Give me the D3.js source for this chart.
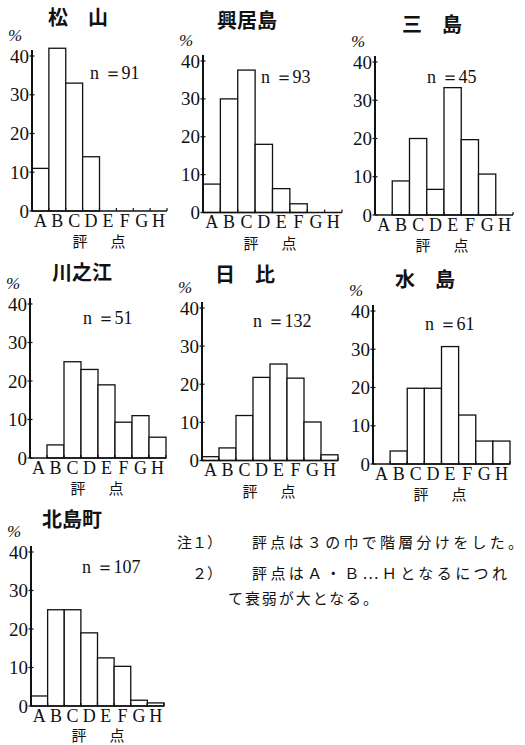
<!DOCTYPE html>
<html><head><meta charset="utf-8">
<script src="https://cdn.jsdelivr.net/npm/d3@7"></script>
<style>
html,body{margin:0;padding:0;background:#fff;}
svg{display:block;}
.ser{font-family:"Liberation Serif","Times New Roman","DejaVu Serif",serif;}
.cjk{font-family:"Noto Sans CJK JP","Noto Sans CJK SC",sans-serif;}
</style></head>
<body>
<script>
// ---- data ----
const categories = ["A","B","C","D","E","F","G","H"];
const yTicks = [0,10,20,30,40];
const regionNames = ["松　山","興居島","三　島","川之江","日　比","水　島","北島町"];
const nValues = [91,93,45,51,132,61,107];
const matsuyama  = [11,42,33,14,0,0,0,0];
const gogoshima  = [7.5,30,37.6,18,6.3,2.3,0,0];
const mishima    = [0,8.9,20,6.7,33.3,19.7,10.7,0];
const kawanoe    = [0,3.4,25,23,19,9.3,11,5.4];
const hibi       = [1,3.3,11.8,21.8,25.3,21.6,10.1,1.5];
const mizushima  = [0,3.4,19.8,19.8,30.7,12.8,6,6];
const kitajima   = [2.6,25,25,19,12.5,10.3,1.5,0.8];
const seriesList = [matsuyama,gogoshima,mishima,kawanoe,hibi,mizushima,kitajima];
const noteHeads = ["注１）","２）",""];
const noteBodies = ["評点は３の巾で階層分けをした。","評点はＡ・Ｂ…Ｈとなるにつれ","て衰弱が大となる。"];

// ---- layout ----
const W = 525, H = 745;
const layout = [
  {x:32,  y0:211,   y40:56,  w:135, tx:78,  ty:18,  nx:90,  ny:73},
  {x:203, y0:212.5, y40:61,  w:139, tx:247, ty:21,  nx:261, ny:77},
  {x:375, y0:215,   y40:62,  w:138, tx:432, ty:25,  nx:427, ny:77},
  {x:30,  y0:458,   y40:304, w:136, tx:82,  ty:273, nx:83,  ny:318},
  {x:202, y0:460.5, y40:308, w:136, tx:245, ty:275, nx:253, ny:321},
  {x:373, y0:464,   y40:311, w:137, tx:425, ty:280, nx:425, ny:324},
  {x:31,  y0:706,   y40:552, w:133, tx:72,  ty:520, nx:82,  ny:567}
];
const noteHeadX = [177,192];
const noteBodyX = [252,252,228];
const noteBodyLen = [271,255,150];
const noteY = [548,579,604];

const svg = d3.select("body").append("svg").attr("width",W).attr("height",H);

seriesList.forEach((vals,i)=>{
  const L = layout[i];
  const g = svg.append("g");
  const x = d3.scaleBand().domain(categories).range([L.x, L.x+L.w]).padding(0);
  const y = d3.scaleLinear().domain([0,40]).range([L.y0, L.y40]);

  // bars
  g.selectAll("rect.bar").data(categories.map((c,k)=>({c,v:vals[k]})).filter(d=>d.v>0))
    .enter().append("rect")
    .attr("x",d=>x(d.c)).attr("width",x.bandwidth())
    .attr("y",d=>y(d.v)).attr("height",d=>y(0)-y(d.v))
    .attr("fill","#fff").attr("stroke","#111").attr("stroke-width",1.3);

  // y axis
  const ya = d3.axisLeft(y).tickValues(yTicks).tickSize(0).tickPadding(3);
  const yg = g.append("g").attr("transform",`translate(${L.x},0)`).call(ya);
  yg.attr("font-family",null).attr("font-size",null);
  yg.select(".domain").remove();
  yg.selectAll("text").attr("class","ser").style("font-size","19px").attr("fill","#111");
  g.append("line").attr("x1",L.x).attr("x2",L.x).attr("y1",y(0)).attr("y2",y(40)-6)
    .attr("stroke","#111").attr("stroke-width",2);
  g.selectAll("line.ytk").data(yTicks).enter().append("line")
    .attr("x1",L.x-2.5).attr("x2",L.x+2.5).attr("y1",d=>y(d)).attr("y2",d=>y(d))
    .attr("stroke","#111").attr("stroke-width",1.2);

  // x axis
  const xa = d3.axisBottom(x).tickSize(0).tickPadding(3);
  const xg = g.append("g").attr("transform",`translate(0,${L.y0})`).call(xa);
  xg.attr("font-family",null).attr("font-size",null);
  xg.select(".domain").remove();
  xg.selectAll("text").attr("class","ser").style("font-size","18px").attr("fill","#111");
  g.append("line").attr("x1",L.x).attr("x2",L.x+L.w).attr("y1",L.y0).attr("y2",L.y0)
    .attr("stroke","#111").attr("stroke-width",1.5);
  g.selectAll("line.xtk").data(categories.slice(1).concat(["end"])).enter().append("line")
    .attr("x1",d=>d==="end"?L.x+L.w:x(d)).attr("x2",d=>d==="end"?L.x+L.w:x(d))
    .attr("y1",L.y0).attr("y2",L.y0-3).attr("stroke","#111").attr("stroke-width",1.2);

  // labels
  const ly = Math.min(L.y0+36, 741);
  g.append("text").attr("x",L.x+48).attr("y",ly).attr("text-anchor","middle")
    .attr("class","cjk").style("font-size","15px").attr("fill","#111").text("評");
  g.append("text").attr("x",L.x+86).attr("y",ly).attr("text-anchor","middle")
    .attr("class","cjk").style("font-size","15px").attr("fill","#111").text("点");
  g.append("text").attr("x",L.x-17).attr("y",L.y40-15).attr("text-anchor","middle")
    .attr("class","ser").style("font-style","italic").style("font-size","17px").attr("fill","#111").text("%");
  g.append("text").attr("x",L.tx).attr("y",L.ty+7).attr("text-anchor","middle")
    .attr("class","cjk").style("font-weight","bold").style("font-size","20px").attr("fill","#111")
    .text(regionNames[i]);
  g.append("text").attr("x",L.nx).attr("y",L.ny+6)
    .attr("class","ser").style("font-size","18px").attr("fill","#111")
    .text("n ＝" + nValues[i]);
});

// notes
noteBodies.forEach((t,k)=>{
  if (noteHeads[k]) {
    svg.append("text").attr("x",noteHeadX[k]).attr("y",noteY[k])
      .attr("class","cjk").style("font-size","15px").attr("fill","#111").text(noteHeads[k]);
  }
  svg.append("text").attr("x",noteBodyX[k]).attr("y",noteY[k])
    .attr("class","cjk").style("font-size","15px").attr("fill","#111")
    .attr("textLength",noteBodyLen[k]).attr("lengthAdjust","spacing").text(t);
});
</script>
</body></html>
